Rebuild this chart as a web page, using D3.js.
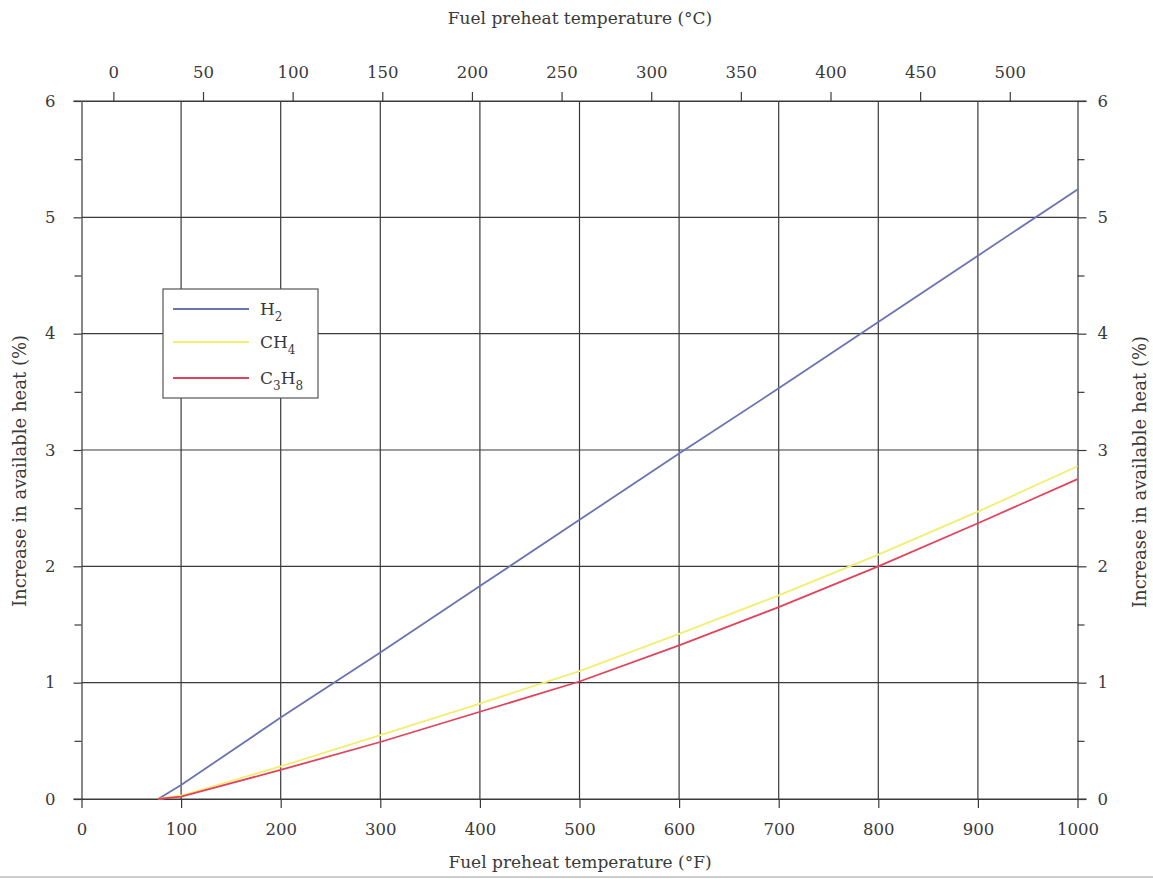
<!DOCTYPE html>
<html>
<head>
<meta charset="utf-8">
<script src="https://cdn.jsdelivr.net/npm/d3@7"></script>
<style>
  body { margin: 0; background: #fff; }
  text { font-family: "DejaVu Serif", "Liberation Serif", serif; fill: #3a3a3a; }
</style>
</head>
<body>
<div class="container"></div>
<script>
const width = 1153;
const height = 879;
const plotLeft = 81.5, plotRight = 1077.5, plotTop = 101, plotBottom = 799;

// data
const tempF = [77, 100, 200, 300, 400, 500, 600, 700, 800, 900, 1000];
const h2 = [0, 0.12, 0.70, 1.26, 1.83, 2.40, 2.97, 3.53, 4.10, 4.67, 5.24];
const ch4 = [0, 0.03, 0.28, 0.55, 0.82, 1.10, 1.42, 1.75, 2.10, 2.47, 2.86];
const c3h8 = [0, 0.02, 0.25, 0.49, 0.75, 1.01, 1.32, 1.65, 2.00, 2.37, 2.75];
const seriesNames = ['H2', 'CH4', 'C3H8'];
const seriesColors = ['#6b73b3', '#f2ee6e', '#e2435c'];
const fTicks = [0, 100, 200, 300, 400, 500, 600, 700, 800, 900, 1000];
const cTicks = [0, 50, 100, 150, 200, 250, 300, 350, 400, 450, 500];
const yTicks = [0, 1, 2, 3, 4, 5, 6];
const yMinor = [0.5, 1.5, 2.5, 3.5, 4.5, 5.5];

const series = [h2, ch4, c3h8];

const xScale = d3.scaleLinear().domain([0, 1000]).range([plotLeft, plotRight]);
const yScale = d3.scaleLinear().domain([0, 6]).range([plotBottom, plotTop]);
const cToF = c => c * 9 / 5 + 32;

const svg = d3.select('.container')
  .append('svg')
  .attr('width', width)
  .attr('height', height);

const gridColor = '#3a3a3a';

// grid lines
svg.selectAll('line.vgrid')
  .data(fTicks.slice(1, -1))
  .enter()
  .append('line')
  .attr('x1', d => xScale(d)).attr('x2', d => xScale(d))
  .attr('y1', plotTop).attr('y2', plotBottom)
  .attr('stroke', gridColor).attr('stroke-width', 1.2);

svg.selectAll('line.hgrid')
  .data(yTicks.slice(1, -1))
  .enter()
  .append('line')
  .attr('x1', plotLeft).attr('x2', plotRight)
  .attr('y1', d => yScale(d)).attr('y2', d => yScale(d))
  .attr('stroke', gridColor).attr('stroke-width', 1.2);

// axes
function styleAxis(g) {
  g.selectAll('path, line').attr('stroke', gridColor).attr('stroke-width', 1.2);
  g.selectAll('text')
    .attr('fill', '#3a3a3a')
    .style('font-family', '"DejaVu Serif", serif')
    .style('font-size', '16.5px');
}

const xBottom = d3.axisBottom(xScale).tickValues(fTicks).tickFormat(d3.format('d'))
  .tickSize(9).tickSizeOuter(0).tickPadding(15);
svg.append('g')
  .attr('transform', `translate(0, ${plotBottom})`)
  .call(xBottom)
  .call(styleAxis);

const xTop = d3.axisTop(xScale).tickValues(cTicks.map(cToF)).tickFormat((d, i) => cTicks[i])
  .tickSize(9).tickSizeOuter(0).tickPadding(14);
svg.append('g')
  .attr('transform', `translate(0, ${plotTop})`)
  .call(xTop)
  .call(styleAxis);

// extend top and bottom frame lines a bit
svg.append('line').attr('x1', plotLeft - 8).attr('x2', plotRight + 9).attr('y1', plotTop).attr('y2', plotTop)
  .attr('stroke', gridColor).attr('stroke-width', 1.2);
svg.append('line').attr('x1', plotLeft - 8).attr('x2', plotRight + 9).attr('y1', plotBottom).attr('y2', plotBottom)
  .attr('stroke', gridColor).attr('stroke-width', 1.2);

const yLeft = d3.axisLeft(yScale).tickValues(yTicks).tickFormat(d3.format('d'))
  .tickSize(8).tickSizeOuter(0).tickPadding(18);
svg.append('g')
  .attr('transform', `translate(${plotLeft}, 0)`)
  .call(yLeft)
  .call(styleAxis);

const yRight = d3.axisRight(yScale).tickValues(yTicks).tickFormat(d3.format('d'))
  .tickSize(9).tickSizeOuter(0).tickPadding(11);
svg.append('g')
  .attr('transform', `translate(${plotRight}, 0)`)
  .call(yRight)
  .call(styleAxis);

// minor y ticks
svg.append('g')
  .attr('transform', `translate(${plotLeft}, 0)`)
  .call(d3.axisLeft(yScale).tickValues(yMinor).tickSize(7).tickSizeOuter(0).tickFormat(''))
  .call(g => g.select('.domain').remove())
  .call(styleAxis);
svg.append('g')
  .attr('transform', `translate(${plotRight}, 0)`)
  .call(d3.axisRight(yScale).tickValues(yMinor).tickSize(7).tickSizeOuter(0).tickFormat(''))
  .call(g => g.select('.domain').remove())
  .call(styleAxis);

// curves
const line = d3.line()
  .x((d, i) => xScale(tempF[i]))
  .y(d => yScale(d));

svg.selectAll('path.series')
  .data(series)
  .enter()
  .append('path')
  .attr('class', 'series')
  .attr('d', d => line(d))
  .attr('fill', 'none')
  .attr('stroke', (d, i) => seriesColors[i])
  .attr('stroke-width', 1.8)
  .attr('stroke-linejoin', 'round');

// legend
const legend = svg.append('g').attr('transform', 'translate(163, 289)');
legend.append('rect')
  .attr('width', 155).attr('height', 109)
  .attr('fill', '#fff').attr('stroke', '#555').attr('stroke-width', 1.2);

const labelParts = [
  [['H', null], ['2', 'sub']],
  [['CH', null], ['4', 'sub']],
  [['C', null], ['3', 'sub'], ['H', null], ['8', 'sub']]
];
const rowY = [20, 53, 89];

seriesNames.forEach((name, i) => {
  legend.append('line')
    .attr('x1', 10).attr('x2', 86)
    .attr('y1', rowY[i]).attr('y2', rowY[i])
    .attr('stroke', seriesColors[i]).attr('stroke-width', 2.2);
  const t = legend.append('text')
    .attr('x', 97).attr('y', rowY[i] + 6)
    .style('font-size', '17px');
  labelParts[i].forEach((p, j) => {
    const ts = t.append('tspan').text(p[0]);
    if (p[1] === 'sub') ts.attr('dy', 6).style('font-size', '12px');
    else ts.attr('dy', j > 0 ? -6 : 0);
  });
});

// axis titles
svg.append('text')
  .attr('x', 580).attr('y', 24)
  .attr('text-anchor', 'middle')
  .style('font-size', '17px')
  .text('Fuel preheat temperature (°C)');

svg.append('text')
  .attr('x', 580).attr('y', 868)
  .attr('text-anchor', 'middle')
  .style('font-size', '17px')
  .text('Fuel preheat temperature (°F)');

svg.append('text')
  .attr('transform', `translate(26, 471) rotate(-90)`)
  .attr('text-anchor', 'middle')
  .style('font-size', '18px')
  .text('Increase in available heat (%)');

svg.append('text')
  .attr('transform', `translate(1146, 472) rotate(-90)`)
  .attr('text-anchor', 'middle')
  .style('font-size', '18px')
  .text('Increase in available heat (%)');

// bottom rule
svg.append('line')
  .attr('x1', 0).attr('x2', width).attr('y1', 877).attr('y2', 877)
  .attr('stroke', '#bbb').attr('stroke-width', 1.5);
</script>
</body>
</html>
